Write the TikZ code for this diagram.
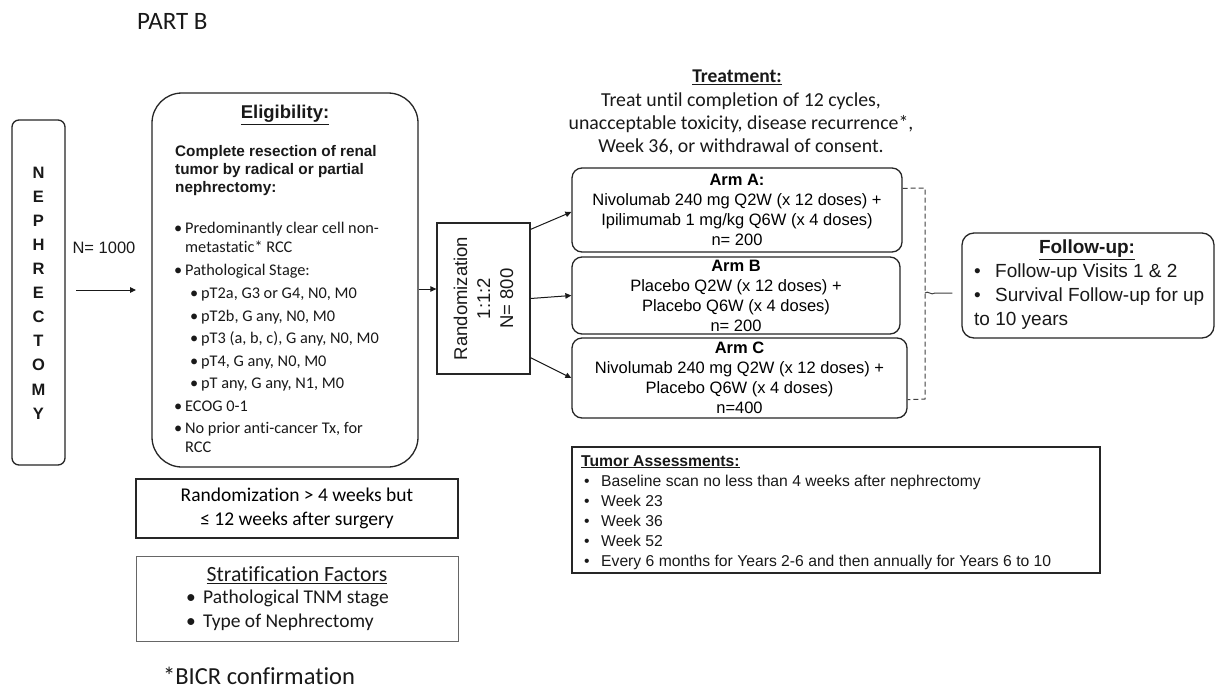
\documentclass[tikz,border=0pt]{standalone}
\usepackage{fontspec}
\setmainfont{Carlito}[Ligatures=NoCommon]
\newfontfamily\arial{Liberation Sans}
\usetikzlibrary{arrows.meta,calc}

\newcommand{\fs}[2]{\fontsize{#1}{#2}\selectfont}
\newcommand{\bul}{\makebox[8pt][l]{\textbullet}\hspace{3pt}}

\begin{document}
\begin{tikzpicture}[x=1pt,y=-1pt,
  box/.style={draw=black!85, line width=1.3pt, inner sep=0pt},
  rbox/.style={box, rounded corners=10pt},
  txt/.style={inner sep=0pt, text=black!90},
  arr/.style={-{Triangle[length=6pt,width=5.5pt]}, line width=1pt, draw=black!90},
  brk/.style={draw=black!75, line width=1pt, dash pattern=on 5pt off 3pt}]
\useasboundingbox (0,0) rectangle (1217,688);
\fill[white] (0,0) rectangle (1217,688);

% heading
\node[txt, anchor=base west, font=\fs{25}{29}] (part) at (137,29) {PART B};

% nephrectomy column
\node[rbox, rounded corners=7pt, minimum width=53pt, minimum height=345pt] (neph) at (38.5,292.5) {};
\node[txt, align=center, font=\arial\bfseries\fs{16.5}{24.1}] (nephtxt) at (38.5,293)
  {N\\E\\P\\H\\R\\E\\C\\T\\O\\M\\Y};
\node[txt, font=\arial\fs{16.5}{20}] (nall) at (104,248) {N= 1000};
\coordinate (na) at (76,290);
\coordinate (nb) at (136,290);
\draw[arr] (na) -- (nb);

% eligibility
\node[rbox, rounded corners=30pt, minimum width=266pt, minimum height=374pt] (elig) at (285,280) {};
\node[txt, font=\arial\bfseries\fs{18.5}{22}] (eligt) at (285,115) {\underline{Eligibility:}};
\node[txt, anchor=north west, align=left, font=\arial\bfseries\fs{15.3}{18}] (eligb) at (175,145)
  {Complete resection of renal\\tumor by radical or partial\\nephrectomy:};
\node[txt, anchor=north west, font=\fs{16.3}{19}] (eligl) at (174,220)
  {\begin{tabular}{@{}l@{}}
   \bul Predominantly clear cell non-\\
   \hspace{11pt}metastatic* RCC\\[4pt]
   \bul Pathological Stage:\\[4pt]
   \hspace{16pt}\bul pT2a, G3 or G4, N0, M0\\[3.5pt]
   \hspace{16pt}\bul pT2b, G any, N0, M0\\[3.5pt]
   \hspace{16pt}\bul pT3 (a, b, c), G any, N0, M0\\[3.5pt]
   \hspace{16pt}\bul pT4, G any, N0, M0\\[3.5pt]
   \hspace{16pt}\bul pT any, G any, N1, M0\\[3.5pt]
   \bul ECOG 0-1\\[3.5pt]
   \bul No prior anti-cancer Tx, for\\
   \hspace{11pt}RCC
   \end{tabular}};

% randomization
\node[box, minimum width=93pt, minimum height=151pt] (rand) at (483.5,298.5) {};
\node[txt, rotate=90, align=center, font=\arial\fs{18.5}{23}] (randtxt) at (rand.center)
  {Randomization\\1:1:2\\N= 800};
\draw[arr] ($(elig.east)+(0,9)$) -- ($(rand.west)+(0,-9.5)$);

% treatment heading
\node[txt, font=\bfseries\fs{19.5}{23}] (treatt) at (737,77) {\underline{Treatment:}};
\node[txt, align=center, font=\fs{19.8}{23}] (treatx) at (741,124)
  {Treat until completion of 12 cycles,\\unacceptable toxicity, disease recurrence*,\\Week 36, or withdrawal of consent.};

% arms
\node[rbox, minimum width=330pt, minimum height=84pt, align=center, font=\arial\fs{16.5}{20}] (armA) at (737,210)
  {\textbf{Arm A:}\\Nivolumab 240 mg Q2W (x 12 doses) +\\Ipilimumab 1 mg/kg Q6W (x 4 doses)\\n= 200};
\node[rbox, minimum width=328pt, minimum height=77pt, align=center, font=\arial\fs{16.5}{20}] (armB) at (736,295.5)
  {\textbf{Arm B}\\Placebo Q2W (x 12 doses) +\\Placebo Q6W (x 4 doses)\\n= 200};
\node[rbox, minimum width=335pt, minimum height=80pt, align=center, font=\arial\fs{16.5}{20}] (armC) at (739.5,378)
  {\textbf{Arm C}\\Nivolumab 240 mg Q2W (x 12 doses) +\\Placebo Q6W (x 4 doses)\\n=400};

\draw[arr] ($(rand.north east)+(0,7)$) -- ($(armA.west)+(0,2)$);
\draw[arr] (rand.east) -- (armB.west);
\draw[arr] ($(rand.south east)+(0,-17)$) -- (armC.west);

% follow-up bracket
\coordinate (bt) at (925,188);
\coordinate (bm) at (925,293);
\coordinate (bb) at (925,399);
\draw[brk] ($(armA.north east)+(0,21)$) -- (bt) -- (bb) -- ($(armC.south east)+(0,-19)$);

\node[rbox, rounded corners=12pt, minimum width=252pt, minimum height=105pt] (follow) at (1088,285.5) {};
\draw[line width=1pt, draw=black!75] (bm) .. controls (928,290) and (931,296) .. (935,293) -- ($(follow.west)+(-9,7.5)$);
\node[txt, font=\arial\bfseries\fs{19}{23}] (followt) at (1087,250) {\underline{Follow-up:}};
\node[txt, anchor=north west, align=left, font=\arial\fs{19}{24}] (followl) at (974,264)
  {\makebox[21pt][l]{\textbullet}Follow-up Visits 1 \& 2\\
   \makebox[21pt][l]{\textbullet}Survival Follow-up for up\\
   to 10 years};

% tumor assessments
\node[box, line width=1.5pt, minimum width=528pt, minimum height=126pt] (tumor) at (836,510) {};
\node[txt, anchor=north west, align=left, font=\arial\fs{15.7}{20}] (tumorl) at (581,455)
  {\textbf{\underline{Tumor Assessments:}}\\
   \hspace{3pt}\makebox[17pt][l]{\textbullet}Baseline scan no less than 4 weeks after nephrectomy\\
   \hspace{3pt}\makebox[17pt][l]{\textbullet}Week 23\\
   \hspace{3pt}\makebox[17pt][l]{\textbullet}Week 36\\
   \hspace{3pt}\makebox[17pt][l]{\textbullet}Week 52\\
   \hspace{3pt}\makebox[17pt][l]{\textbullet}Every 6 months for Years 2-6 and then annually for Years 6 to 10};

% randomization window
\node[box, minimum width=322pt, minimum height=59pt, align=center, font=\fs{19.5}{24}] (window) at (297,508.5)
  {Randomization > 4 weeks but\\≤ 12 weeks after surgery};

% stratification
\node[box, draw=black!60, line width=1pt, minimum width=322pt, minimum height=85pt] (strat) at (297,598.5) {};
\node[txt, font=\fs{21.7}{24}] (stratt) at (297,575) {\underline{Stratification Factors}};
\node[txt, anchor=north west, align=left, font=\fs{19.5}{23.5}] (stratl) at (186,590)
  {\makebox[17pt][l]{\textbullet}Pathological TNM stage\\
   \makebox[17pt][l]{\textbullet}Type of Nephrectomy};

% footnote
\node[txt, anchor=base west, font=\fs{24.5}{28}] (bicr) at (163,684) {*BICR confirmation};
\end{tikzpicture}
\end{document}
